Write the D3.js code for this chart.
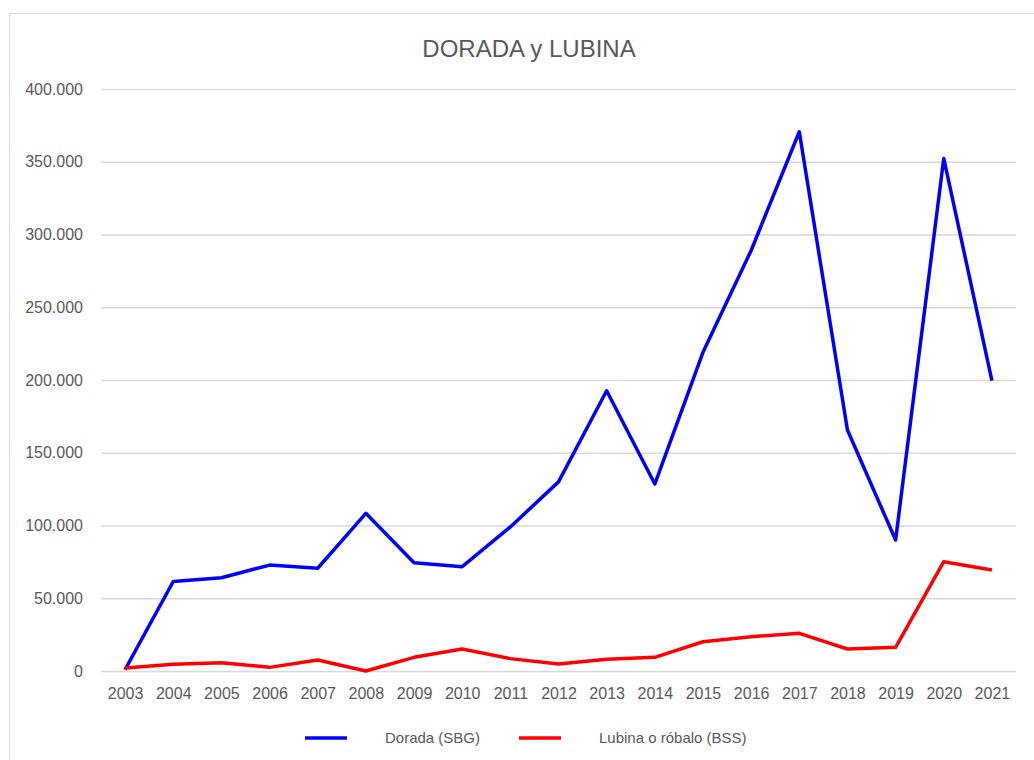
<!DOCTYPE html>
<html>
<head>
<meta charset="utf-8">
<script src="https://cdn.jsdelivr.net/npm/d3@7"></script>
<style>
  body { margin: 0; background: #ffffff; }
</style>
</head>
<body>
<script>
// Data
var years = ["2003", "2004", "2005", "2006", "2007", "2008", "2009", "2010", "2011", "2012",
             "2013", "2014", "2015", "2016", "2017", "2018", "2019", "2020", "2021"];
var dorada = [1000, 61500, 64100, 72800, 70600, 108400, 74400, 71700, 99000, 130000,
              192600, 128500, 219000, 289000, 370600, 165600, 90000, 352300, 199500];
var lubina = [2000, 4600, 5700, 2500, 7600, 0, 9400, 15100, 8500, 4800,
              8000, 9400, 20100, 23600, 25900, 15100, 16300, 75100, 69400];
var yTicks = [0, 50000, 100000, 150000, 200000, 250000, 300000, 350000, 400000];
var seriesNames = ["Dorada (SBG)", "Lubina o róbalo (BSS)"];
var seriesColors = ["#0000ff", "#ff0000"];

var w = 1034,
    h = 760;

// plot area (note: "top" is reserved on window, so use pl/pr/pt/pb)
var pl = 101, pr = 1016, pt = 89, pb = 671;

var locale = d3.formatLocale({ decimal: ",", thousands: ".", grouping: [3], currency: ["", "€"] });
var fmt = locale.format(",d");

var svg = d3.select("body").append("svg")
    .attr("width", w)
    .attr("height", h);

// Chart area border
svg.append("rect")
  .attr("x", 9.5)
  .attr("y", 13.5)
  .attr("width", 1040)
  .attr("height", 770)
  .attr("fill", "white")
  .attr("stroke", "#d9d9d9")
  .attr("stroke-width", 1);

var x = d3.scalePoint()
    .domain(years)
    .range([pl, pr])
    .padding(0.5);

var y = d3.scaleLinear()
    .domain([0, 400000])
    .range([pb, pt]);

// Gridlines + y labels
var yAxis = d3.axisLeft(y)
    .tickValues(yTicks)
    .tickSize(-(pr - pl))
    .tickPadding(18)
    .tickFormat(fmt);

var gy = svg.append("g")
    .attr("transform", "translate(" + pl + ",0)")
    .call(yAxis);
gy.select(".domain").remove();
gy.selectAll(".tick line")
  .attr("stroke", "#d9d9d9")
  .attr("stroke-width", 1.5);
gy.selectAll(".tick text")
  .style("font-family", "Liberation Sans, Arial, sans-serif")
  .style("font-size", "16px")
  .attr("fill", "#595959");

// X labels
var xAxis = d3.axisBottom(x)
    .tickSize(0)
    .tickPadding(17);

var gx = svg.append("g")
    .attr("transform", "translate(0," + pb + ")")
    .call(xAxis);
gx.select(".domain").remove();
gx.selectAll(".tick text")
  .style("font-family", "Liberation Sans, Arial, sans-serif")
  .style("font-size", "16px")
  .attr("fill", "#595959");

// Lines
var line = d3.line()
    .x(function(d, i) { return x(years[i]); })
    .y(function(d) { return y(d); });

[dorada, lubina].forEach(function(s, i) {
  svg.append("path")
    .datum(s)
    .attr("d", line)
    .attr("fill", "none")
    .attr("stroke", seriesColors[i])
    .attr("stroke-width", 3.5)
    .attr("stroke-linejoin", "round");
});

// Title
svg.append("text")
  .attr("x", 529)
  .attr("y", 57)
  .attr("text-anchor", "middle")
  .style("font-family", "Liberation Sans, Arial, sans-serif")
  .style("font-size", "24px")
  .attr("fill", "#595959")
  .text("DORADA y LUBINA");

// Legend
var legX = [305, 519];
seriesNames.forEach(function(name, i) {
  svg.append("line")
    .attr("x1", legX[i])
    .attr("x2", legX[i] + 42)
    .attr("y1", 738)
    .attr("y2", 738)
    .attr("stroke", seriesColors[i])
    .attr("stroke-width", 3.5);
  svg.append("text")
    .attr("x", legX[i] + 80)
    .attr("y", 743)
    .style("font-family", "Liberation Sans, Arial, sans-serif")
    .style("font-size", "15px")
    .attr("fill", "#595959")
    .text(name);
});
</script>
</body>
</html>
